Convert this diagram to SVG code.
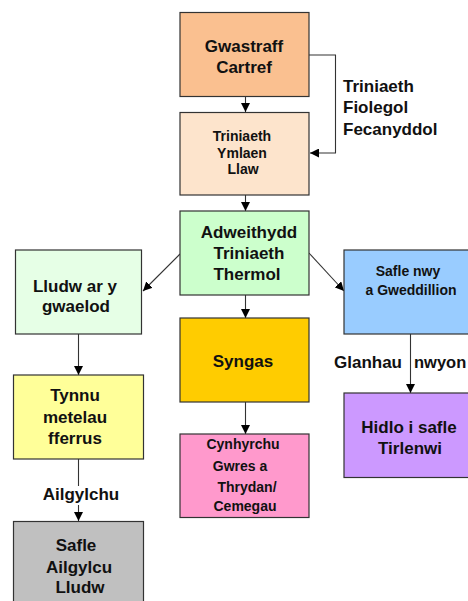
<svg xmlns="http://www.w3.org/2000/svg" width="468" height="601" viewBox="0 0 468 601">
<defs>
<marker id="ah" viewBox="0 0 10 10" refX="10" refY="5" markerWidth="9" markerHeight="9" markerUnits="userSpaceOnUse" orient="auto">
<path d="M0,0 L10,5 L0,10 Z" fill="#000"/>
</marker>
<style>
.box{stroke:#333;stroke-width:1.2}
.t{font-family:"Liberation Sans",Arial,sans-serif;font-weight:bold;text-anchor:middle;fill:#111}
.l{font-size:17px}
.s{font-size:14px}
.c{stroke:#333;stroke-width:1.1;fill:none}
.lab{font-family:"Liberation Sans",Arial,sans-serif;font-weight:bold;font-size:17px;fill:#111}
</style>
</defs>
<rect width="468" height="601" fill="#fff"/>
<g id="connectors">
<line class="c" x1="245.5" y1="97" x2="245.5" y2="112" marker-end="url(#ah)"/>
<polyline class="c" points="309,55 335.5,55 335.5,153 310,153" marker-end="url(#ah)"/>
<line class="c" x1="245.5" y1="195" x2="245.5" y2="211" marker-end="url(#ah)"/>
<line class="c" x1="180" y1="254" x2="143" y2="291" marker-end="url(#ah)"/>
<line class="c" x1="309" y1="253" x2="344" y2="291" marker-end="url(#ah)"/>
<line class="c" x1="245.5" y1="295" x2="245.5" y2="318" marker-end="url(#ah)"/>
<line class="c" x1="78.5" y1="334" x2="78.5" y2="375" marker-end="url(#ah)"/>
<line class="c" x1="245.5" y1="402" x2="245.5" y2="434" marker-end="url(#ah)"/>
<line class="c" x1="410.5" y1="334" x2="410.5" y2="393" marker-end="url(#ah)"/>
<line class="c" x1="78.5" y1="459" x2="78.5" y2="486"/>
<line class="c" x1="78.5" y1="505" x2="78.5" y2="521" marker-end="url(#ah)"/>
<text class="lab" x="343" y="92">Triniaeth</text>
<text class="lab" x="343" y="113">Fiolegol</text>
<text class="lab" x="343" y="135">Fecanyddol</text>
<text class="lab" x="402" y="368" text-anchor="end">Glanhau</text>
<text class="lab" x="414" y="368" style="font-size:16.5px">nwyon</text>
<text class="lab" x="81" y="500" text-anchor="middle">Ailgylchu</text>
</g>
<g id="gwastraff">
<rect class="box" x="180" y="12.5" width="129" height="84" fill="#FAC090"/>
<text class="t l" x="244" y="52">Gwastraff</text>
<text class="t l" x="244" y="73">Cartref</text>
</g>
<g id="triniaeth-ymlaen">
<rect class="box" x="180" y="112.5" width="129" height="82.5" fill="#FDE4CC"/>
<text class="t s" x="242" y="141">Triniaeth</text>
<text class="t s" x="242" y="158">Ymlaen</text>
<text class="t s" x="243" y="174">Llaw</text>
</g>
<g id="adweithydd">
<rect class="box" x="180" y="211" width="129" height="84" fill="#CCFFCC"/>
<text class="t l" x="249" y="238">Adweithydd</text>
<text class="t l" x="249" y="259">Triniaeth</text>
<text class="t l" x="247" y="280">Thermol</text>
</g>
<g id="lludw">
<rect class="box" x="15.5" y="250" width="126" height="84" fill="#E6FFE6"/>
<text class="t l" x="75" y="292">Lludw ar y</text>
<text class="t l" x="76" y="312">gwaelod</text>
</g>
<g id="safle-nwy">
<rect class="box" x="344" y="250" width="134" height="84" fill="#99CCFF"/>
<text class="t s" x="408" y="276">Safle nwy</text>
<text class="t s" x="411" y="295">a Gweddillion</text>
</g>
<g id="syngas">
<rect class="box" x="180" y="318" width="129" height="84" fill="#FFCC00"/>
<text class="t l" x="243" y="367">Syngas</text>
</g>
<g id="tynnu">
<rect class="box" x="13.5" y="375" width="130" height="84" fill="#FFFF99"/>
<text class="t l" x="75" y="401">Tynnu</text>
<text class="t l" x="75" y="423">metelau</text>
<text class="t l" x="75" y="444">fferrus</text>
</g>
<g id="hidlo">
<rect class="box" x="344" y="393" width="134" height="84.5" fill="#CC99FF"/>
<text class="t l" x="409" y="433">Hidlo i safle</text>
<text class="t l" x="410" y="454">Tirlenwi</text>
</g>
<g id="cynhyrchu">
<rect class="box" x="180" y="434" width="129" height="83.5" fill="#FF99CC"/>
<text class="t s" x="243" y="449">Cynhyrchu</text>
<text class="t s" x="240" y="471">Gwres a</text>
<text class="t s" x="247" y="492">Thrydan/</text>
<text class="t s" x="245" y="511">Cemegau</text>
</g>
<g id="safle-ailgylcu">
<rect class="box" x="13.5" y="521.5" width="130" height="90" fill="#C0C0C0"/>
<text class="t l" x="76" y="551">Safle</text>
<text class="t l" x="79" y="573">Ailgylcu</text>
<text class="t l" x="80" y="593">Lludw</text>
</g>
</svg>
